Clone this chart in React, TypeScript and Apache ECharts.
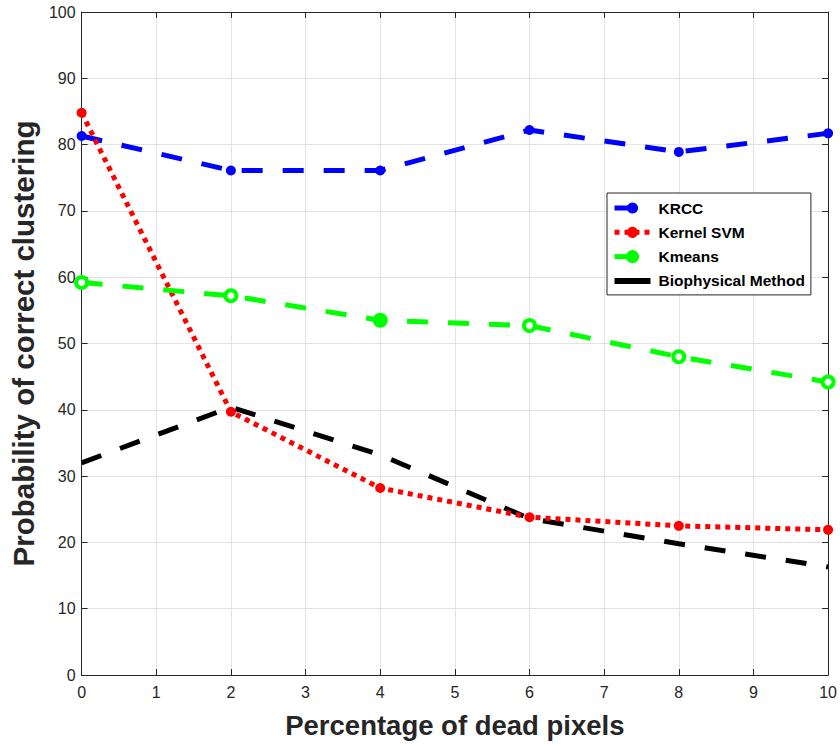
import React, { useEffect, useRef } from "react";
import * as echarts from "echarts";

// Percentage of dead pixels (x) and clustering accuracy per method
const deadPixels = [0, 2, 4, 6, 8, 10];
const krcc = [81.3, 76.1, 76.1, 82.2, 78.9, 81.7];
const kernelSvm = [84.8, 39.7, 28.2, 23.8, 22.5, 21.9];
const kmeans = [59.2, 57.2, 53.5, 52.7, 48.0, 44.2];
const biophysical = [32.0, 40.4, 33.2, 23.6, 19.8, 16.3];

const xTicks = [0, 1, 2, 3, 4, 5, 6, 7, 8, 9, 10];
const yTicks = [0, 10, 20, 30, 40, 50, 60, 70, 80, 90, 100];

const FONT = '"Liberation Sans", Arial, Helvetica, sans-serif';
const AXIS = "#262626";
const GRID = "#e3e3e3";

const pairs = (ys: number[]) => deadPixels.map((x, i) => [x, ys[i]]);

export default function App() {
  const ref = useRef<HTMLDivElement>(null);

  useEffect(() => {
    document.body.style.margin = "0";
    if (!ref.current) return;
    const chart = echarts.init(ref.current, null, { renderer: "svg" });

    const frameAxisX = {
      min: xTicks[0],
      max: xTicks[xTicks.length - 1],
      interval: 1,
      type: "value" as const,
    };
    const frameAxisY = {
      min: yTicks[0],
      max: yTicks[yTicks.length - 1],
      interval: 10,
      type: "value" as const,
    };

    chart.setOption({
      animation: false,
      backgroundColor: "#ffffff",
      grid: { left: 80, right: 10, top: 12, bottom: 71, containLabel: false },
      xAxis: [
        {
          ...frameAxisX,
          position: "bottom",
          name: "Percentage of dead pixels",
          nameLocation: "middle",
          nameGap: 36,
          nameTextStyle: { fontFamily: FONT, fontWeight: "bold", fontSize: 27.5, color: AXIS },
          axisLine: { show: true, onZero: false, lineStyle: { color: AXIS, width: 1 } },
          axisTick: { show: true, inside: true, length: 6, lineStyle: { color: AXIS } },
          axisLabel: { fontFamily: FONT, fontSize: 16, color: AXIS, margin: 9 },
          splitLine: { show: true, lineStyle: { color: GRID, width: 1 } },
        },
        {
          ...frameAxisX,
          position: "top",
          axisLine: { show: true, onZero: false, lineStyle: { color: AXIS, width: 1 } },
          axisTick: { show: true, inside: true, length: 6, lineStyle: { color: AXIS } },
          axisLabel: { show: false },
          splitLine: { show: false },
        },
      ],
      yAxis: [
        {
          ...frameAxisY,
          position: "left",
          name: "Probability of correct clustering",
          nameLocation: "middle",
          nameGap: 39,
          nameTextStyle: { fontFamily: FONT, fontWeight: "bold", fontSize: 29.5, color: AXIS },
          axisLine: { show: true, onZero: false, lineStyle: { color: AXIS, width: 1 } },
          axisTick: { show: true, inside: true, length: 6, lineStyle: { color: AXIS } },
          axisLabel: { fontFamily: FONT, fontSize: 16, color: AXIS, margin: 6 },
          splitLine: { show: true, lineStyle: { color: GRID, width: 1 } },
        },
        {
          ...frameAxisY,
          position: "right",
          axisLine: { show: true, onZero: false, lineStyle: { color: AXIS, width: 1 } },
          axisTick: { show: true, inside: true, length: 6, lineStyle: { color: AXIS } },
          axisLabel: { show: false },
          splitLine: { show: false },
        },
      ],
      legend: {
        orient: "vertical",
        left: 607,
        top: 193,
        padding: [7, 6, 6, 5],
        itemWidth: 36,
        itemHeight: 14,
        itemGap: 8.3,
        backgroundColor: "#ffffff",
        borderColor: AXIS,
        borderWidth: 1,
        lineStyle: { width: 5 },
        textStyle: {
          fontFamily: FONT,
          fontWeight: "bold",
          fontSize: 15.5,
          color: "#000000",
          padding: [0, 0, 0, 3],
        },
        data: [
          { name: "KRCC" },
          { name: "Kernel SVM" },
          { name: "Kmeans", itemStyle: { color: "#00ff00", borderColor: "#00ff00" } },
          {
            name: "Biophysical Method",
            icon: "path://M0 0H30V5H0Z",
            itemStyle: { color: "#000000" },
          },
        ],
      },
      series: [
        {
          name: "KRCC",
          type: "line",
          data: pairs(krcc),
          symbol: "circle",
          symbolSize: 10,
          itemStyle: { color: "#0000ff" },
          lineStyle: { color: "#0000ff", width: 5, type: [21, 20], cap: "butt" },
          z: 2,
        },
        {
          name: "Kernel SVM",
          type: "line",
          data: pairs(kernelSvm),
          symbol: "circle",
          symbolSize: 10,
          itemStyle: { color: "#ff0000" },
          lineStyle: { color: "#ff0000", width: 5, type: [5, 5], cap: "butt" },
          z: 3,
        },
        {
          name: "Kmeans",
          type: "line",
          data: pairs(kmeans).map((p, i) =>
            i === 2
              ? { value: p, itemStyle: { color: "#00ff00" } }
              : { value: p }
          ),
          symbol: "circle",
          symbolSize: 11,
          itemStyle: { color: "#ffffff", borderColor: "#00ff00", borderWidth: 4 },
          lineStyle: { color: "#00ff00", width: 5, type: [21, 20], cap: "butt" },
          z: 4,
        },
        {
          name: "Biophysical Method",
          type: "line",
          data: pairs(biophysical),
          symbol: "none",
          itemStyle: { color: "#000000" },
          lineStyle: { color: "#000000", width: 5, type: [21, 20], cap: "butt" },
          z: 2,
        },
      ],
    });

    return () => chart.dispose();
  }, []);

  return <div ref={ref} style={{ width: 840, height: 746 }} />;
}
